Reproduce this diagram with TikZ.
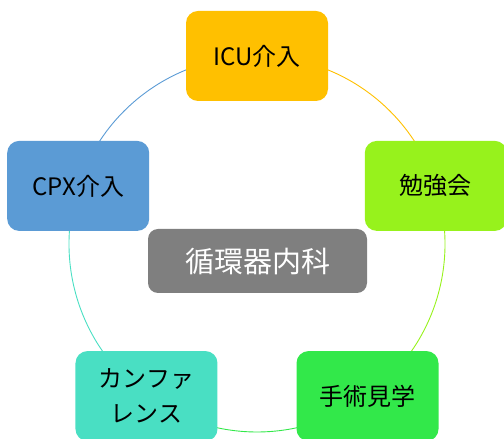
\documentclass[tikz,border=0pt]{standalone}
\usepackage{fontspec}
\usetikzlibrary{backgrounds}
\setmainfont{Noto Sans CJK JP}
\definecolor{corange}{HTML}{FFC000}
\definecolor{clime}{HTML}{97F21C}
\definecolor{cgreen}{HTML}{32E84A}
\definecolor{cteal}{HTML}{49DFC3}
\definecolor{cblue}{HTML}{5B9BD5}
\definecolor{cgray}{HTML}{7F7F7F}
\begin{document}
\begin{tikzpicture}[x=1pt,y=1pt,
  box/.style={rounded corners=12pt, minimum width=142pt, minimum height=90pt, inner sep=0pt, align=center, font=\fontsize{24}{35}\selectfont, text=black},
  arcline/.style={line width=0.9pt}]
\useasboundingbox (0,0) rectangle (504,439);
\coordinate (c) at (257,195);
\node[box, fill=corange] (icu) at ([shift={(90:188)}]c) {ICU介入};
\node[box, fill=clime] (ben) at ([shift={(18:188)}]c) {勉強会};
\node[box, fill=cgreen] (shu) at ([shift={(-54:188)}]c) {手術見学};
\node[box, fill=cteal] (kan) at ([shift={(234:188)}]c) {カンファ\\レンス};
\node[box, fill=cblue] (cpx) at ([shift={(162:188)}]c) {CPX介入};
\node[rounded corners=10pt, fill=cgray, minimum width=219pt, minimum height=64pt, inner sep=0pt, text=white, font=\fontsize{29}{32}\selectfont] (main) at (257.5,178) {循環器内科};
\begin{scope}[on background layer]
\draw[arcline, corange] (icu.center) arc[start angle=90, end angle=18, radius=188];
\draw[arcline, clime] (ben.center) arc[start angle=18, end angle=-54, radius=188];
\draw[arcline, cgreen] (shu.center) arc[start angle=-54, end angle=-126, radius=188];
\draw[arcline, cteal] (kan.center) arc[start angle=234, end angle=162, radius=188];
\draw[arcline, cblue] (cpx.center) arc[start angle=162, end angle=90, radius=188];
\end{scope}
\end{tikzpicture}
\end{document}
